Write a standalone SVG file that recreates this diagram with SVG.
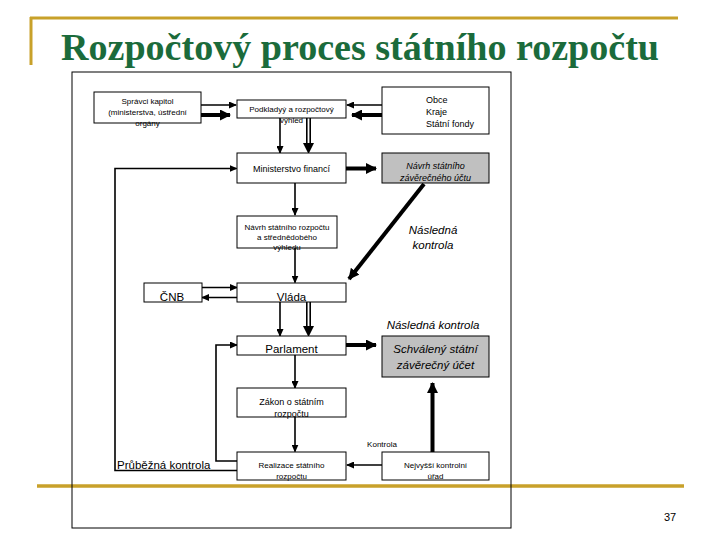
<svg xmlns="http://www.w3.org/2000/svg" width="720" height="540" viewBox="0 0 720 540">
<defs>
<style>
.box{fill:#fff;stroke:#000;stroke-width:1}
.gray{fill:#c0c0c0;stroke:#000;stroke-width:1}
.t{font-family:"Liberation Sans",Arial,sans-serif;fill:#000}
.s8{font-size:8px}
.s9{font-size:9px}
.s11{font-size:11.5px}
.it{font-style:italic}
.thin{stroke:#000;stroke-width:1.6;fill:none}
.thick{stroke:#000;stroke-width:4;fill:none}
.gold{stroke:#c8a12a;fill:none}
</style>
<marker id="ah" markerUnits="userSpaceOnUse" markerWidth="8" markerHeight="7" refX="7" refY="3.5" orient="auto">
<path d="M0,0 L8,3.5 L0,7 z" fill="#000"/>
</marker>
<marker id="ahb" markerUnits="userSpaceOnUse" markerWidth="11" markerHeight="11" refX="10" refY="5.5" orient="auto">
<path d="M0,0 L11,5.5 L0,11 z" fill="#000"/>
</marker>
</defs>
<rect width="720" height="540" fill="#fff"/>
<g id="decor">
<line class="gold" x1="30" y1="18" x2="678" y2="18" stroke-width="3"/>
<line class="gold" x1="31" y1="17" x2="31" y2="65" stroke-width="3"/>
<line class="gold" x1="37" y1="486" x2="684" y2="486" stroke-width="3.5"/>
<text x="360" y="60" text-anchor="middle" font-family="Liberation Serif,'Times New Roman',serif" font-weight="bold" font-size="38" fill="#1b6b3b" textLength="598" lengthAdjust="spacingAndGlyphs">Rozpočtový proces státního rozpočtu</text>
<rect x="72" y="72" width="439" height="456" fill="none" stroke="#000" stroke-width="1"/>
<text class="t" x="670" y="521" text-anchor="middle" font-size="11">37</text>
</g>
<g id="connectors">
<line class="thin" x1="201" y1="105" x2="236" y2="105" marker-end="url(#ah)"/>
<line class="thick" x1="201" y1="115" x2="230" y2="115" marker-end="url(#ahb)"/>
<line class="thin" x1="382" y1="105" x2="347" y2="105" marker-end="url(#ah)"/>
<line class="thick" x1="382" y1="115" x2="352" y2="115" marker-end="url(#ahb)"/>
<line class="thin" x1="280" y1="118" x2="280" y2="153" marker-end="url(#ah)"/>
<line class="thin" x1="306.8" y1="118" x2="306.8" y2="146" stroke-width="1.4"/>
<line class="thin" x1="310.2" y1="118" x2="310.2" y2="146" stroke-width="1.4"/>
<line x1="308.5" y1="143" x2="308.5" y2="153" stroke="none" marker-end="url(#ahb)"/>
<line class="thick" x1="346" y1="168.5" x2="376" y2="168.5" marker-end="url(#ahb)"/>
<line class="thin" x1="295" y1="183" x2="295" y2="215" marker-end="url(#ah)"/>
<line class="thick" x1="424" y1="184" x2="349" y2="279" marker-end="url(#ahb)"/>
<line class="thin" x1="295" y1="248" x2="295" y2="282.5" marker-end="url(#ah)"/>
<line class="thin" x1="202" y1="287.5" x2="237" y2="287.5" marker-end="url(#ah)"/>
<line class="thin" x1="237" y1="297.5" x2="202" y2="297.5" marker-end="url(#ah)"/>
<line class="thin" x1="280" y1="302" x2="280" y2="336" marker-end="url(#ah)"/>
<line class="thin" x1="306.8" y1="302" x2="306.8" y2="329" stroke-width="1.4"/>
<line class="thin" x1="310.2" y1="302" x2="310.2" y2="329" stroke-width="1.4"/>
<line x1="308.5" y1="326" x2="308.5" y2="336" stroke="none" marker-end="url(#ahb)"/>
<line class="thick" x1="346" y1="345" x2="376" y2="345" marker-end="url(#ahb)"/>
<line class="thin" x1="295" y1="355" x2="295" y2="388" marker-end="url(#ah)"/>
<line class="thin" x1="295" y1="417" x2="295" y2="451.5" marker-end="url(#ah)"/>
<line class="thick" x1="432.5" y1="452" x2="432.5" y2="383" marker-end="url(#ahb)"/>
<line class="thin" x1="382" y1="465" x2="347" y2="465" marker-end="url(#ah)"/>
<polyline class="thin" stroke-width="1.3" points="237,461 216,461 216,345 237,345" marker-end="url(#ah)"/>
<polyline class="thin" stroke-width="1.3" points="237,470.5 115,470.5 115,168.5 236.5,168.5" marker-end="url(#ah)"/>
</g>
<g id="spravci">
<rect class="box" x="94" y="92" width="107" height="31"/>
<text class="t s8" text-anchor="middle"><tspan x="147.5" y="104">Správci kapitol</tspan><tspan x="147.5" y="115">(ministerstva, ústřední</tspan><tspan x="147.5" y="126">orgány</tspan></text>
</g>
<g id="podklady">
<rect class="box" x="237" y="100" width="109" height="18"/>
<text class="t s8" text-anchor="middle"><tspan x="291.5" y="112">Podkladyý a rozpočtový</tspan><tspan x="291.5" y="123">výhled</tspan></text>
</g>
<g id="obce">
<rect class="box" x="382" y="87" width="107" height="47"/>
<text class="t s9"><tspan x="426" y="103">Obce</tspan><tspan x="426" y="115">Kraje</tspan><tspan x="426" y="127">Státní fondy</tspan></text>
</g>
<g id="mf">
<rect class="box" x="237" y="153" width="109" height="30"/>
<text class="t s9" x="291.5" y="172" text-anchor="middle">Ministerstvo financí</text>
</g>
<g id="navrh-zu">
<rect class="gray" x="382" y="153" width="107" height="30"/>
<text class="t s9 it" text-anchor="middle"><tspan x="435.5" y="169">Návrh státního</tspan><tspan x="435.5" y="181">závěrečného účtu</tspan></text>
</g>
<g id="navrh-sr">
<rect class="box" x="237" y="216" width="100" height="32"/>
<text class="t s8" text-anchor="middle"><tspan x="287" y="230">Návrh státního rozpočtu</tspan><tspan x="287" y="240">a střednědobého</tspan><tspan x="287" y="250">výhledu</tspan></text>
</g>
<text class="t s11 it" text-anchor="middle"><tspan x="433" y="234">Následná</tspan><tspan x="433" y="249">kontrola</tspan></text>
<g id="cnb">
<rect class="box" x="144" y="283" width="58" height="19"/>
<text class="t s11" x="172" y="301" text-anchor="middle">ČNB</text>
</g>
<g id="vlada">
<rect class="box" x="237" y="283" width="109" height="19"/>
<text class="t s11" x="291.5" y="301" text-anchor="middle">Vláda</text>
</g>
<text class="t s11 it" x="433" y="329" text-anchor="middle">Následná kontrola</text>
<g id="parlament">
<rect class="box" x="237" y="336" width="109" height="19"/>
<text class="t s11" x="291.5" y="353" text-anchor="middle">Parlament</text>
</g>
<g id="schvaleny">
<rect class="gray" x="382" y="336" width="107" height="41"/>
<text class="t s11 it" text-anchor="middle"><tspan x="435.5" y="353">Schválený státní</tspan><tspan x="435.5" y="369">závěrečný účet</tspan></text>
</g>
<g id="zakon">
<rect class="box" x="237" y="388" width="109" height="29"/>
<text class="t s9" text-anchor="middle"><tspan x="291.5" y="405">Zákon o státním</tspan><tspan x="291.5" y="417">rozpočtu</tspan></text>
</g>
<text class="t s8" x="382" y="447" text-anchor="middle">Kontrola</text>
<g id="realizace">
<rect class="box" x="237" y="452" width="109" height="28"/>
<text class="t s8" text-anchor="middle"><tspan x="291.5" y="468">Realizace státního</tspan><tspan x="291.5" y="479">rozpočtu</tspan></text>
</g>
<g id="nku">
<rect class="box" x="382" y="452" width="107" height="28"/>
<text class="t s8" text-anchor="middle"><tspan x="435.5" y="468">Nejvyšší kontrolní</tspan><tspan x="435.5" y="479">úřad</tspan></text>
</g>
<text class="t s11" x="117" y="468.5">Průběžná kontrola</text>
</svg>
